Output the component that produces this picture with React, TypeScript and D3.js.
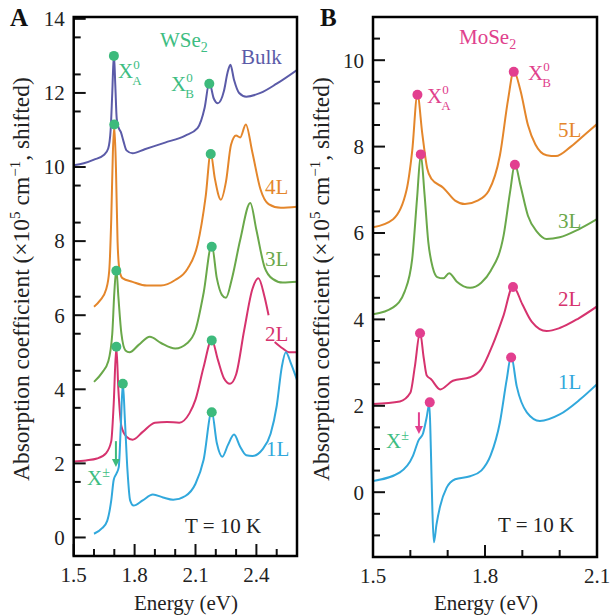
import React from "react";
import * as d3 from "d3";

// ---------- DATA ----------
// Panel A : WSe2 (energy eV, absorption ×10^5 cm^-1, shifted)
const wse2Bulk: [number, number][] = [
  [1.5, 10.05], [1.55, 10.1], [1.6, 10.2], [1.65, 10.33], [1.67, 10.5], [1.682, 11.0], [1.69, 12.0],
  [1.698, 13.05], [1.705, 12.2], [1.712, 11.3], [1.722, 11.05], [1.732, 10.95], [1.745, 10.7],
  [1.76, 10.45], [1.79, 10.37], [1.85, 10.48], [1.95, 10.66], [2.05, 10.85], [2.11, 11.05],
  [2.145, 11.6], [2.168, 12.28], [2.19, 11.85], [2.21, 11.72], [2.24, 12.05], [2.258, 12.55],
  [2.272, 12.76], [2.29, 12.35], [2.315, 12.0], [2.35, 11.9], [2.42, 12.0], [2.5, 12.25], [2.6, 12.62],
];
const wse24L: [number, number][] = [
  [1.6, 6.23], [1.63, 6.4], [1.66, 6.7], [1.675, 7.2], [1.685, 8.6], [1.693, 10.4], [1.7, 11.1],
  [1.708, 10.0], [1.716, 8.0], [1.726, 7.2], [1.74, 7.0], [1.79, 6.9], [1.86, 6.8], [1.93, 6.8],
  [2.0, 6.95], [2.06, 7.25], [2.11, 7.9], [2.15, 9.2], [2.175, 10.38], [2.195, 9.7], [2.225, 9.12],
  [2.25, 9.6], [2.275, 10.6], [2.3, 10.85], [2.32, 10.8], [2.348, 11.15], [2.38, 10.4], [2.42, 9.4],
  [2.46, 9.0], [2.52, 8.9], [2.6, 8.93],
];
const wse23L: [number, number][] = [
  [1.6, 4.2], [1.64, 4.45], [1.67, 4.75], [1.69, 5.5], [1.7, 6.6], [1.71, 7.25], [1.72, 6.5],
  [1.735, 5.5], [1.755, 5.05], [1.775, 5.0], [1.82, 5.2], [1.875, 5.42], [1.93, 5.25], [2.0, 5.1],
  [2.06, 5.25], [2.1, 5.6], [2.14, 6.6], [2.18, 7.9], [2.205, 7.0], [2.23, 6.55], [2.25, 6.47],
  [2.28, 7.0], [2.32, 8.03], [2.37, 9.03], [2.4, 8.3], [2.44, 7.3], [2.48, 6.98], [2.53, 6.88], [2.6, 6.9],
];
const wse22L: [number, number | null][] = [
  [1.5, 2.05], [1.56, 2.08], [1.615, 2.13], [1.66, 2.28], [1.685, 2.6], [1.697, 3.6], [1.71, 5.15],
  [1.72, 4.0], [1.735, 3.0], [1.76, 2.72], [1.79, 2.64], [1.84, 2.85], [1.9, 3.1], [1.96, 3.12],
  [2.02, 3.1], [2.07, 3.35], [2.1, 3.72], [2.14, 4.6], [2.18, 5.34], [2.21, 4.8], [2.24, 4.3],
  [2.27, 4.15], [2.3, 4.4], [2.34, 5.6], [2.38, 6.7], [2.41, 7.0], [2.44, 6.5], [2.46, 6.0],
  [2.475, null], [2.49, 5.28], [2.53, 5.1], [2.56, 5.0], [2.6, 5.0],
];
const wse21L: [number, number][] = [
  [1.6, 0.1], [1.64, 0.25], [1.665, 0.45], [1.685, 1.0], [1.697, 1.55], [1.71, 1.72], [1.722, 1.9],
  [1.732, 3.0], [1.742, 4.17], [1.752, 3.2], [1.765, 1.8], [1.778, 1.0], [1.795, 0.86], [1.84, 1.0],
  [1.89, 1.16], [1.94, 1.08], [1.99, 1.02], [2.05, 1.12], [2.1, 1.45], [2.14, 2.1], [2.18, 3.4],
  [2.205, 2.55], [2.232, 2.18], [2.26, 2.5], [2.29, 2.78], [2.32, 2.45], [2.35, 2.22], [2.38, 2.2],
  [2.43, 2.38], [2.47, 2.8], [2.5, 3.55], [2.525, 4.6], [2.545, 5.0], [2.57, 4.7], [2.6, 4.25],
];

// Panel B : MoSe2
const mose25L: [number, number][] = [
  [1.5, 6.13], [1.554, 6.32], [1.59, 7.0], [1.605, 7.9], [1.619, 9.21], [1.632, 8.3], [1.645, 7.5],
  [1.657, 7.25], [1.688, 7.05], [1.72, 6.75], [1.746, 6.67], [1.78, 6.75], [1.81, 6.98], [1.84, 7.8],
  [1.862, 9.1], [1.877, 9.75], [1.895, 9.3], [1.915, 8.5], [1.935, 8.05], [1.965, 7.8], [1.99, 7.78],
  [2.03, 8.0], [2.07, 8.3], [2.1, 8.52],
];
const mose23L: [number, number][] = [
  [1.5, 4.12], [1.554, 4.28], [1.585, 4.65], [1.605, 5.4], [1.618, 6.8], [1.628, 7.82], [1.638, 6.9],
  [1.648, 5.8], [1.66, 5.2], [1.672, 4.98], [1.688, 4.95], [1.704, 5.07], [1.724, 4.88], [1.76, 4.73],
  [1.79, 4.85], [1.815, 5.12], [1.85, 5.95], [1.868, 7.0], [1.88, 7.6], [1.895, 7.1], [1.915, 6.4],
  [1.94, 6.02], [1.965, 5.86], [2.0, 5.9], [2.05, 6.08], [2.1, 6.32],
];
const mose22L: [number, number][] = [
  [1.5, 2.04], [1.572, 2.1], [1.6, 2.3], [1.612, 2.9], [1.626, 3.7], [1.636, 3.1], [1.644, 2.7],
  [1.655, 2.62], [1.68, 2.38], [1.714, 2.58], [1.76, 2.66], [1.79, 2.85], [1.82, 3.4], [1.85, 4.1],
  [1.875, 4.77], [1.9, 4.35], [1.925, 3.95], [1.965, 3.73], [2.0, 3.8], [2.05, 4.02], [2.1, 4.3],
];
const mose21L: [number, number][] = [
  [1.5, 0.26], [1.572, 0.46], [1.607, 0.84], [1.622, 1.2], [1.634, 1.36], [1.643, 1.7], [1.651, 2.04],
  [1.655, 1.0], [1.659, -0.4], [1.663, -1.16], [1.67, -0.75], [1.68, -0.32], [1.697, 0.1],
  [1.72, 0.3], [1.76, 0.37], [1.79, 0.5], [1.815, 0.85], [1.84, 1.62], [1.858, 2.6], [1.87, 3.15],
  [1.885, 2.45], [1.912, 1.85], [1.947, 1.65], [2.0, 1.8], [2.055, 2.15], [2.1, 2.5],
];

// peak markers
const wse2Dots: [number, number][] = [
  [1.698, 13.0], [2.168, 12.25], [1.7, 11.15], [2.175, 10.35], [1.71, 7.2], [2.18, 7.85],
  [1.71, 5.15], [2.18, 5.32], [1.742, 4.15], [2.18, 3.38],
];
const mose2Dots: [number, number][] = [
  [1.619, 9.2], [1.877, 9.73], [1.628, 7.82], [1.88, 7.58], [1.626, 3.68], [1.875, 4.75], [1.652, 2.08], [1.87, 3.12],
];

const xTicksA = [1.5, 1.8, 2.1, 2.4];
const xTicksB = [1.5, 1.8, 2.1];
const yTicksA = [0, 2, 4, 6, 8, 10, 12, 14];
const yTicksB = [0, 2, 4, 6, 8, 10];

// ---------- STYLE ----------
const C = {
  bulk: "#5b5ba8",
  orange: "#e4862b",
  green: "#6aa84a",
  magenta: "#d6336e",
  blue: "#31a8dc",
  dotGreen: "#3dba7c",
  dotMag: "#e23f8f",
  txtGreen: "#3dbd82",
  txtMag: "#e0418c",
};
const FONT = "Liberation Serif, Tinos, Times, serif";

type Pt = [number, number | null];

function Panel(props: {
  x: d3.ScaleLinear<number, number>;
  y: d3.ScaleLinear<number, number>;
  xTicks: number[];
  xMinor: number[];
  yTicks: number[];
  yMinor: number[];
  curves: { data: Pt[]; color: string }[];
  dots: [number, number][];
  dotColor: string;
}) {
  const { x, y, xTicks, xMinor, yTicks, yMinor, curves, dots, dotColor } = props;
  const [x0, x1] = x.range();
  const [y0, y1] = y.range();
  const line = d3
    .line<Pt>()
    .defined((d) => d[1] !== null)
    .x((d) => x(d[0]))
    .y((d) => y(d[1] as number))
    .curve(d3.curveMonotoneX);
  const clipId = "clip" + Math.round(x0);
  return (
    <g>
      <defs>
        <clipPath id={clipId}>
          <rect x={x0} y={y1} width={x1 - x0} height={y0 - y1} />
        </clipPath>
      </defs>
      <g clipPath={`url(#${clipId})`}>
        {curves.map((c, i) => (
          <path key={i} d={line(c.data) || ""} fill="none" stroke={c.color} strokeWidth={2} />
        ))}
        {dots.map((d, i) => (
          <circle key={i} cx={x(d[0])} cy={y(d[1])} r={5} fill={dotColor} />
        ))}
      </g>
      {yMinor.map((v, i) => (
        <line key={"ym" + i} x1={x0} x2={x0 + 7} y1={y(v)} y2={y(v)} stroke="#111" strokeWidth={2} />
      ))}
      {yTicks.map((v, i) => (
        <g key={"yt" + i}>
          <line x1={x0} x2={x0 + 12} y1={y(v)} y2={y(v)} stroke="#111" strokeWidth={2} />
          <text x={x0 - 9} y={y(v)} dy="0.35em" textAnchor="end" fontSize={21}>
            {v}
          </text>
        </g>
      ))}
      {xMinor.map((v, i) => (
        <line key={"xm" + i} x1={x(v)} x2={x(v)} y1={y0} y2={y0 - 7} stroke="#111" strokeWidth={2} />
      ))}
      {xTicks.map((v, i) => (
        <g key={"xt" + i}>
          <line x1={x(v)} x2={x(v)} y1={y0} y2={y0 - 12} stroke="#111" strokeWidth={2} />
          <text x={x(v)} y={y0 + 26} textAnchor="middle" fontSize={21}>
            {v.toFixed(1)}
          </text>
        </g>
      ))}
      <rect x={x0} y={y1} width={x1 - x0} height={y0 - y1} fill="none" stroke="#000" strokeWidth={2.5} />
    </g>
  );
}

function Sub(props: { x: number; y: number; base: string; sup: string; sub: string; color: string; size?: number }) {
  const s = props.size ?? 21;
  return (
    <text x={props.x} y={props.y} fontSize={s} fill={props.color}>
      {props.base}
      <tspan fontSize={s * 0.62} dy={-s * 0.45}>{props.sup}</tspan>
      <tspan fontSize={s * 0.62} dx={-s * 0.36} dy={s * 0.8}>{props.sub}</tspan>
    </text>
  );
}

function Arrow(props: { x: number; y1: number; y2: number; color: string }) {
  const { x, y1, y2, color } = props;
  return (
    <g>
      <line x1={x} x2={x} y1={y1} y2={y2 - 6} stroke={color} strokeWidth={2} />
      <path d={`M${x - 4},${y2 - 8} L${x + 4},${y2 - 8} L${x},${y2} Z`} fill={color} />
    </g>
  );
}

function YTitle(props: { x: number; y: number }) {
  return (
    <text transform={`translate(${props.x},${props.y}) rotate(-90)`} textAnchor="start" fontSize={23.5}>
      Absorption coefficient (×10<tspan fontSize={15} dy={-9}>5</tspan>
      <tspan dy={9}> cm</tspan>
      <tspan fontSize={15} dy={-9}>−1</tspan>
      <tspan dy={9}>, shifted)</tspan>
    </text>
  );
}

export default function App() {
  const xA = d3.scaleLinear().domain([1.5, 2.6]).range([73.7, 297]);
  const yA = d3.scaleLinear().domain([-0.5, 14.05]).range([556, 17]);
  const xB = d3.scaleLinear().domain([1.5, 2.1]).range([373, 597]);
  const yB = d3.scaleLinear().domain([-1.5, 11.0]).range([557, 17]);

  const xMinorA = d3.range(1.6, 2.55, 0.1).filter((v) => !xTicksA.some((t) => Math.abs(t - v) < 1e-6));
  const xMinorB = d3.range(1.6, 2.05, 0.1).filter((v) => !xTicksB.some((t) => Math.abs(t - v) < 1e-6));
  const yMinorA = d3.range(0.5, 14, 1);
  const yMinorB = d3.range(-1, 11, 0.5).filter((v) => !yTicksB.includes(v));

  return (
    <svg
      width={611}
      height={616}
      style={{ position: "absolute", left: 0, top: 0, background: "#fff", fontFamily: FONT }}
      fill="#222"
    >
      <Panel
        x={xA}
        y={yA}
        xTicks={xTicksA}
        xMinor={xMinorA}
        yTicks={yTicksA}
        yMinor={yMinorA}
        curves={[
          { data: wse2Bulk, color: C.bulk },
          { data: wse24L, color: C.orange },
          { data: wse23L, color: C.green },
          { data: wse22L, color: C.magenta },
          { data: wse21L, color: C.blue },
        ]}
        dots={wse2Dots}
        dotColor={C.dotGreen}
      />
      <Panel
        x={xB}
        y={yB}
        xTicks={xTicksB}
        xMinor={xMinorB}
        yTicks={yTicksB}
        yMinor={yMinorB}
        curves={[
          { data: mose25L, color: C.orange },
          { data: mose23L, color: C.green },
          { data: mose22L, color: C.magenta },
          { data: mose21L, color: C.blue },
        ]}
        dots={mose2Dots}
        dotColor={C.dotMag}
      />

      {/* panel letters */}
      <text x={10} y={26} fontSize={25} fontWeight="bold" fill="#111">A</text>
      <text x={320} y={26} fontSize={25} fontWeight="bold" fill="#111">B</text>

      {/* axis titles */}
      <YTitle x={29} y={481} />
      <YTitle x={329} y={481} />
      <text x={186} y={610} textAnchor="middle" fontSize={21}>Energy (eV)</text>
      <text x={486} y={610} textAnchor="middle" fontSize={21}>Energy (eV)</text>

      {/* Panel A annotations */}
      <text x={160} y={47} fontSize={21} fill={C.txtGreen}>
        WSe<tspan fontSize={14} dy={5}>2</tspan>
      </text>
      <text x={241} y={64} fontSize={21} fill={C.bulk}>Bulk</text>
      <Sub x={118} y={78} base="X" sup="0" sub="A" color={C.txtGreen} />
      <Sub x={171} y={91} base="X" sup="0" sub="B" color={C.txtGreen} />
      <text x={265} y={194} fontSize={21} fill={C.orange}>4L</text>
      <text x={265} y={266} fontSize={21} fill={C.green}>3L</text>
      <text x={265} y={341} fontSize={21} fill={C.magenta}>2L</text>
      <text x={266} y={456} fontSize={21} fill={C.blue}>1L</text>
      <text x={87} y={485} fontSize={21} fill={C.txtGreen}>
        X<tspan fontSize={14} dy={-8}>±</tspan>
      </text>
      <Arrow x={xA(1.708)} y1={yA(2.6)} y2={yA(1.9)} color={C.dotGreen} />
      <text x={185} y={533} fontSize={21}>T = 10 K</text>

      {/* Panel B annotations */}
      <text x={459} y={44} fontSize={21} fill={C.txtMag}>
        MoSe<tspan fontSize={14} dy={5}>2</tspan>
      </text>
      <Sub x={427} y={103} base="X" sup="0" sub="A" color={C.txtMag} />
      <Sub x={528} y={80} base="X" sup="0" sub="B" color={C.txtMag} />
      <text x={558} y={137} fontSize={21} fill={C.orange}>5L</text>
      <text x={558} y={228} fontSize={21} fill={C.green}>3L</text>
      <text x={558} y={306} fontSize={21} fill={C.magenta}>2L</text>
      <text x={558} y={389} fontSize={21} fill={C.blue}>1L</text>
      <text x={386} y={448} fontSize={21} fill={C.txtGreen}>
        X<tspan fontSize={14} dy={-8}>±</tspan>
      </text>
      <Arrow x={xB(1.623)} y1={yB(1.85)} y2={yB(1.35)} color={C.dotMag} />
      <text x={498} y={532} fontSize={21}>T = 10 K</text>
    </svg>
  );
}
